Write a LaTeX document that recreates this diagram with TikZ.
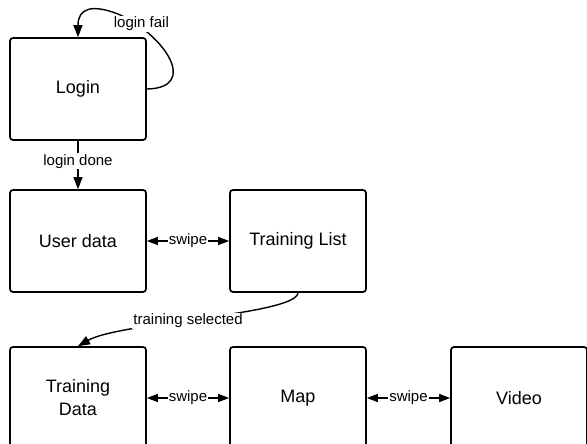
\documentclass[tikz,border=0pt]{standalone}
\usepackage{fontspec}
\setmainfont{Liberation Sans}
\usetikzlibrary{arrows.meta}
\tikzset{
  screen/.style={draw, line width=1.7pt, rounded corners=3pt, minimum width=136pt, minimum height=102pt, align=center, font=\fontsize{18}{23}\selectfont},
  lbl/.style={fill=white, inner sep=1pt, font=\fontsize{15}{16}\selectfont},
  trans/.style={line width=1.4pt, -{Triangle[length=12pt,width=9pt]}},
  swipe/.style={line width=1.4pt, {Triangle[length=11pt,width=8pt]}-{Triangle[length=11pt,width=8pt]}}
}
\begin{document}
\begin{tikzpicture}[x=1pt,y=-1pt]
\useasboundingbox (0,0) rectangle (587,444);
\pgfmathsetmacro{\ra}{241}
\pgfmathsetmacro{\rb}{398}
\node[screen] (login) at (78,89) {Login};
\node[screen] (udata) at (78,\ra) {User data};
\node[screen] (tlist) at (298,\ra) {Training List};
\node[screen] (tdata) at (78,\rb) {Training\\Data};
\node[screen] (map) at (298,\rb) {Map};
\node[screen] (video) at (519,\rb) {Video};
\draw[trans] (login.east) .. controls (200,88) and (164,34) .. node[lbl, pos=0.82, yshift=4pt]{login fail} (118,14) .. controls (92,4) and (78,8) .. (login.north);
\draw[trans] (login.south) -- node[lbl, pos=0.42]{login done} (udata.north);
\draw[trans] (tlist.south) .. controls (296,315) and (120,322) .. node[lbl, pos=0.55]{training selected} (tdata.north);
\draw[swipe] (udata.east) -- node[lbl]{swipe} (tlist.west);
\draw[swipe] (tdata.east) -- node[lbl]{swipe} (map.west);
\draw[swipe] (map.east) -- node[lbl]{swipe} (video.west);
\end{tikzpicture}
\end{document}
